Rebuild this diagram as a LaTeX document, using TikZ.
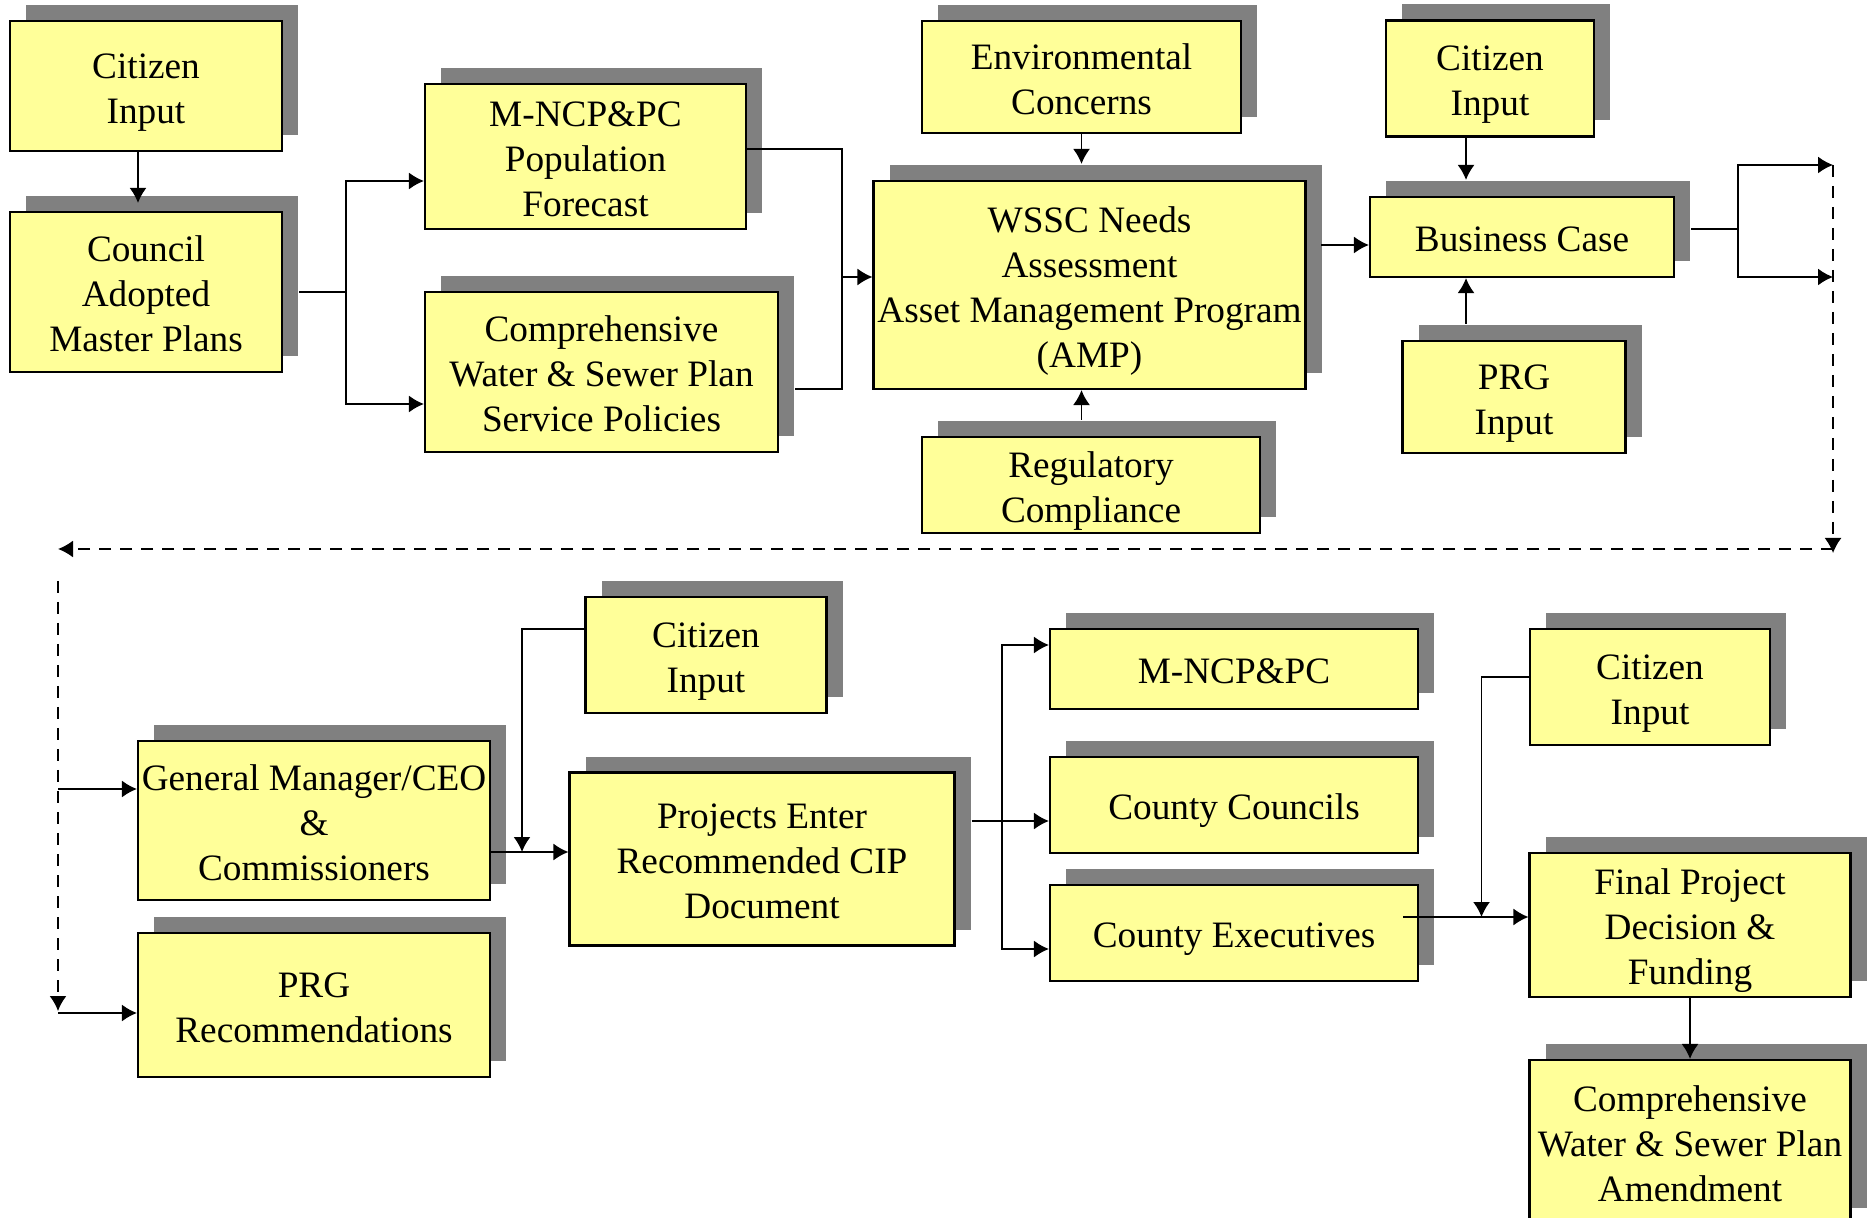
\documentclass[tikz,border=0pt]{standalone}
\usepackage{fontspec}
\setmainfont{Liberation Serif}
\usetikzlibrary{shadows}
\usetikzlibrary{arrows.meta}
\definecolor{boxyellow}{RGB}{255,255,153}
\definecolor{shadowgray}{RGB}{128,128,128}
\tikzset{
    stage/.style={draw=black, line width=0.6pt, fill=boxyellow, align=center,
        inner sep=0pt, font=\fontsize{10.6}{12.8}\selectfont,
        text height=23.5pt, text depth=2.3pt,
        general shadow={fill=shadowgray, draw=none, shadow xshift=1.6mm, shadow yshift=1.6mm}},
    oneline/.style={text height=10.7pt},
    threeline/.style={text height=36.3pt},
    fourline/.style={text height=49.1pt},
    link/.style={draw=black, line width=0.5pt},
    flow/.style={link, -{Latex[length=1.5mm,width=1.7mm]}},
    handoff/.style={flow, dash pattern=on 1.2mm off 0.9mm}
}

\begin{document}
\begin{tikzpicture}[x=0.1mm, y=-0.1mm]
\useasboundingbox (0,0) rectangle (1873,1218);
\clip (0,0) rectangle (1873,1218);
% planning row
\node[stage, minimum width=27.2mm, minimum height=13mm] (cit1) at (146,86) {Citizen\\Input};
\node[stage, threeline, minimum width=27.2mm, minimum height=16mm] (council) at (146,292) {Council\\Adopted\\Master Plans};
\node[stage, threeline, minimum width=32.1mm, minimum height=14.5mm] (mncp1) at (585.5,156.5) {M-NCP\&PC\\Population\\Forecast};
\node[stage, threeline, minimum width=35.3mm, minimum height=16mm] (cwsp) at (601.5,372) {Comprehensive\\Water \& Sewer Plan\\Service Policies};
\node[stage, minimum width=31.9mm, minimum height=11.2mm] (env) at (1081.5,77) {Environmental\\Concerns};
\node[stage, fourline, minimum width=43.2mm, minimum height=20.8mm] (wssc) at (1089.5,285) {WSSC Needs\\Assessment\\Asset Management Program\\(AMP)};
\node[stage, minimum width=33.8mm, minimum height=9.6mm] (reg) at (1091,485) {Regulatory\\Compliance};
\node[stage, minimum width=20.8mm, minimum height=11.6mm] (cit2) at (1490,78.5) {Citizen\\Input};
\node[stage, oneline, minimum width=30.4mm, minimum height=8mm] (bcase) at (1522,237) {Business Case};
\node[stage, minimum width=22.3mm, minimum height=11.2mm] (prgin) at (1514,397) {PRG\\Input};
% approval row
\node[stage, threeline, minimum width=35.2mm, minimum height=15.9mm] (gm) at (314,820.5) {General Manager/CEO\\\&\\Commissioners};
\node[stage, minimum width=35.2mm, minimum height=14.4mm] (prgrec) at (314,1005) {PRG\\Recommendations};
\node[stage, minimum width=24.1mm, minimum height=11.6mm] (cit3) at (706,655) {Citizen\\Input};
\node[stage, threeline, minimum width=38.5mm, minimum height=17.3mm] (proj) at (762,859) {Projects Enter\\Recommended CIP\\Document};
\node[stage, oneline, minimum width=36.8mm, minimum height=8mm] (mncp2) at (1234,669) {M-NCP\&PC};
\node[stage, oneline, minimum width=36.8mm, minimum height=9.6mm] (ccoun) at (1234,805) {County Councils};
\node[stage, oneline, minimum width=36.8mm, minimum height=9.6mm] (cexec) at (1234,933) {County Executives};
\node[stage, minimum width=24mm, minimum height=11.6mm] (cit4) at (1650,687) {Citizen\\Input};
\node[stage, threeline, minimum width=32.1mm, minimum height=14.4mm] (final) at (1690,925) {Final Project\\Decision \&\\Funding};
\node[stage, threeline, minimum width=32.1mm, minimum height=16.4mm] (amend) at (1690,1142) {Comprehensive\\Water \& Sewer Plan\\Amendment};

% joints
\coordinate (split1) at (346,292);
\coordinate (split1a) at (346,181);
\coordinate (split1b) at (346,404);
\coordinate (join1) at (842,277);
\coordinate (join1a) at (842,149);
\coordinate (join1b) at (842,389);
\coordinate (out1) at (1321,245);
\coordinate (bcx) at (1466,0);
\coordinate (fork1) at (1738,229);
\coordinate (next1) at (1833,165);
\coordinate (next2) at (1833,277);
\coordinate (turn1) at (1833,553);
\coordinate (back1) at (1833,549);
\coordinate (back2) at (58,549);
\coordinate (down1) at (58,581);
\coordinate (down2) at (58,1011);
\coordinate (in1) at (58,789);
\coordinate (in2) at (58,1013);
\coordinate (join2) at (522,852);
\coordinate (join2a) at (522,629);
\coordinate (fork2) at (1002,821);
\coordinate (fork2a) at (1002,645);
\coordinate (fork2b) at (1002,949);
\coordinate (join3) at (1481.5,917);
\coordinate (join3a) at (1481.5,677);

% planning connectors
\draw[flow] ([xshift=-0.8mm]cit1.south) -- ([xshift=-0.8mm, yshift=0.8mm]council.north);
\draw[link] ([xshift=1.6mm]council.east) -- (split1);
\draw[flow] (split1) -- (split1a) -- (mncp1.west |- split1a);
\draw[flow] (split1) -- (split1b) -- (cwsp.west |- split1b);
\draw[link] (mncp1.east |- join1a) -- (join1a) -- (join1b) -- ([xshift=1.6mm]cwsp.east |- join1b);
\draw[flow] (join1) -- (wssc.west |- join1);
\draw[flow] (env.south) -- ([yshift=1.6mm]env.south |- wssc.north);
\draw[flow] ([yshift=1.6mm]reg.north -| env.south) -- (wssc.south -| env.south);
\draw[flow] (out1) -- (bcase.west |- out1);
\draw[flow] (cit2.south -| bcx) -- ([yshift=1.6mm]bcase.north -| bcx);
\draw[flow] ([yshift=1.6mm]prgin.north -| bcx) -- (bcase.south -| bcx);
\draw[link] ([xshift=1.6mm]bcase.east |- fork1) -- (fork1);
\draw[flow] (fork1) |- (next1);
\draw[flow] (fork1) |- (next2);

% hand-off to approval row
\draw[handoff] (next1) -- (turn1);
\draw[handoff] (back1) -- (back2);
\draw[handoff] (down1) -- (down2);
\draw[flow] (in1) -- (gm.west |- in1);
\draw[flow] (in2) -- (prgrec.west |- in2);

% approval connectors
\draw[link] (gm.east |- join2) -- (join2);
\draw[flow] (join2) -- (proj.west |- join2);
\draw[flow] (cit3.west |- join2a) -- (join2a) -- (join2);
\draw[link] ([xshift=1.6mm]proj.east |- fork2) -- (fork2);
\draw[flow] (fork2) -- (ccoun.west |- fork2);
\draw[flow] (fork2) -- (fork2a) -- (mncp2.west |- fork2a);
\draw[flow] (fork2) -- (fork2b) -- (cexec.west |- fork2b);
\draw[link] ([xshift=-1.6mm]cexec.east |- join3) -- (join3);
\draw[flow] (join3) -- (final.west |- join3);
\draw[flow] (cit4.west |- join3a) -- (join3a) -- (join3);
\draw[flow] (final.south) -- (amend.north);
\end{tikzpicture}
\end{document}
